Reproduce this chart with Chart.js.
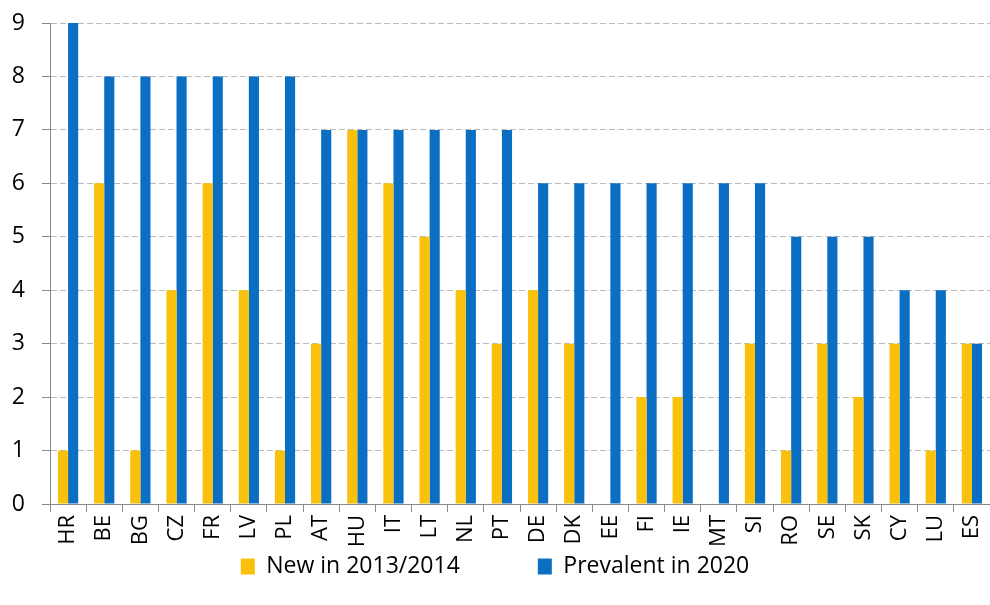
<!DOCTYPE html>
<html>
<head>
<meta charset="utf-8">
<script src="https://cdn.jsdelivr.net/npm/chart.js@4/dist/chart.umd.min.js"></script>
<style>
  html, body { margin: 0; padding: 0; background: #fff; }
  #wrap { width: 990px; height: 605px; position: relative; }
</style>
</head>
<body>
<div id="wrap"><canvas id="chart"></canvas></div>
<script>
const countries = ["HR", "BE", "BG", "CZ", "FR", "LV", "PL", "AT", "HU", "IT", "LT", "NL", "PT",
  "DE", "DK", "EE", "FI", "IE", "MT", "SI", "RO", "SE", "SK", "CY", "LU", "ES"];
const newIn2013 = [1, 6, 1, 4, 6, 4, 1, 3, 7, 6, 5, 4, 3, 4, 3, 0, 2, 2, 0, 3, 1, 3, 2, 3, 1, 3];
const prevalent2020 = [9, 8, 8, 8, 8, 8, 8, 7, 7, 7, 7, 7, 7, 6, 6, 6, 6, 6, 6, 6, 5, 5, 5, 4, 4, 3];
const yTicks = [0, 1, 2, 3, 4, 5, 6, 7, 8, 9];

const fontFamily = "'Open Sans', 'DejaVu Sans', sans-serif";
const legendGap = 78; // horizontal gap between the two legend items

// keep the wide item spacing but don't let it push the legend down
const legendShift = {
  id: "legendShift",
  afterInit(chart) {
    const legend = chart.legend;
    const origDraw = legend._draw.bind(legend);
    legend._draw = function () {
      const ctx = this.ctx;
      ctx.save();
      ctx.translate(0, -(legendGap - 10));
      origDraw();
      ctx.restore();
    };
  },
};

const noPad = (s) => {
  s.paddingTop = 0;
  s.paddingBottom = 0;
  s.paddingLeft = 0;
  s.paddingRight = 0;
};

new Chart(document.getElementById("chart"), {
  type: "bar",
  data: {
    labels: countries,
    datasets: [
      {
        label: "New in 2013/2014",
        data: newIn2013,
        backgroundColor: "#F9C00C",
        categoryPercentage: 0.56,
        barPercentage: 1.0,
      },
      {
        label: "Prevalent in 2020",
        data: prevalent2020,
        backgroundColor: "#0A6EC2",
        categoryPercentage: 0.56,
        barPercentage: 1.0,
      },
    ],
  },
  options: {
    responsive: true,
    maintainAspectRatio: false,
    animation: false,
    layout: { padding: { top: 23, right: 0, left: 0, bottom: 20 } },
    plugins: {
      legend: {
        position: "bottom",
        maxHeight: 40,
        labels: {
          color: "#000",
          font: { family: fontFamily, size: 23 },
          boxWidth: 14,
          boxHeight: 16,
          padding: legendGap,
        },
      },
      tooltip: { enabled: false },
    },
    scales: {
      x: {
        afterFit: (s) => {
          s.height = 41;
          noPad(s);
        },
        grid: {
          display: true,
          offset: true,
          drawOnChartArea: false,
          drawTicks: true,
          tickLength: 8,
          color: "#888",
        },
        border: { color: "#888" },
        ticks: {
          color: "#000",
          font: { family: fontFamily, size: 22 },
          minRotation: 90,
          maxRotation: 90,
          autoSkip: false,
          padding: 3,
        },
      },
      y: {
        min: 0,
        max: 9,
        afterBuildTicks: (s) => { s.ticks = yTicks.map((v) => ({ value: v })); },
        afterFit: (s) => {
          s.width = 50;
          noPad(s);
        },
        grid: {
          color: "#bbb",
          tickLength: 8,
          tickColor: "#888",
        },
        border: { color: "#888", dash: [6, 3] },
        ticks: {
          color: "#000",
          font: { family: fontFamily, size: 23 },
          padding: 17,
        },
      },
    },
  },
  plugins: [legendShift],
});
</script>
</body>
</html>
